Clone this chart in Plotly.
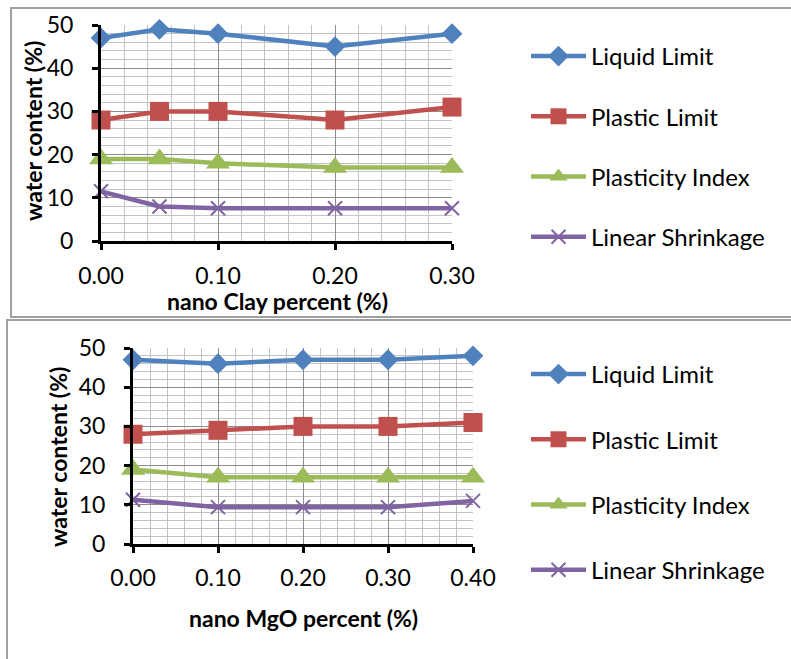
import plotly.graph_objects as go

W, H = 791, 659

# ---------------- data ----------------
series_names = ["Liquid Limit", "Plastic Limit", "Plasticity Index", "Linear Shrinkage"]

clay_pct = [0.00, 0.05, 0.10, 0.20, 0.30]
clay_ll = [47, 49, 48, 45, 48]
clay_pl = [28, 30, 30, 28, 31]
clay_pi = [19, 19, 18, 17, 17]
clay_ls = [11.5, 8.0, 7.6, 7.6, 7.6]

mgo_pct = [0.00, 0.10, 0.20, 0.30, 0.40]
mgo_ll = [47, 46, 47, 47, 48]
mgo_pl = [28, 29, 30, 30, 31]
mgo_pi = [19, 17, 17, 17, 17]
mgo_ls = [11.3, 9.4, 9.4, 9.4, 11.0]

x_title_top = "nano Clay percent (%)"
x_title_bottom = "nano MgO percent (%)"
y_title = "water content (%)"

# ---------------- styles ----------------
colors = ["#4F81BD", "#C0504D", "#9BBB59", "#8064A2"]
symbols = ["diamond", "square", "triangle-up", "x-thin"]
msizes = [16, 19, 21, 14]
FONT = "Lato"
FS = 23
LFS = 24


def px_x(p):
    return p / W


def px_y(p):
    return 1 - p / H


fig = go.Figure()

panels = [
    (clay_pct, [clay_ll, clay_pl, clay_pi, clay_ls], "x", "y", "legend"),
    (mgo_pct, [mgo_ll, mgo_pl, mgo_pi, mgo_ls], "x2", "y2", "legend2"),
]
for pi_, (xs, ys_list, xa, ya, lg) in enumerate(panels):
    for i, (name, ys) in enumerate(zip(series_names, ys_list)):
        mk = dict(symbol=symbols[i], size=msizes[i], color=colors[i])
        if symbols[i] == "x-thin":
            mk["line"] = dict(color=colors[i], width=2)
        else:
            mk["line"] = dict(width=0)
        fig.add_trace(go.Scatter(
            x=xs, y=ys, name=name, mode="lines+markers",
            line=dict(color=colors[i], width=4.5),
            marker=mk, xaxis=xa, yaxis=ya, legend=lg,
            legendgroup=f"{lg}_{i}", cliponaxis=False,
        ))

axis_common = dict(
    showline=True, linecolor="black", linewidth=3,
    ticks="outside", ticklen=6, tickwidth=3, tickcolor="black",
    showgrid=True, gridcolor="#8c8c8c", gridwidth=1.3,
    zeroline=False, mirror=False,
    tickfont=dict(family=FONT, size=FS, color="black"),
    automargin=False,
)
minor_x = dict(dtick=0.02, showgrid=True, gridcolor="#c4c4c4", gridwidth=1.3)
minor_y = dict(dtick=2, showgrid=True, gridcolor="#c4c4c4", gridwidth=1.3)

fig.update_layout(
    width=W, height=H,
    margin=dict(l=0, r=0, t=0, b=0),
    paper_bgcolor="white", plot_bgcolor="white",
    showlegend=True,
    xaxis=dict(**axis_common, domain=[px_x(101), px_x(452)], range=[0, 0.30],
               dtick=0.1, tickformat=".2f", anchor="y", ticklabelstandoff=6,
               minor=minor_x),
    yaxis=dict(**axis_common, domain=[px_y(241), px_y(25)], range=[0, 50],
               dtick=10, anchor="x", ticklabelstandoff=14, minor=minor_y),
    xaxis2=dict(**axis_common, domain=[px_x(133), px_x(473)], range=[0, 0.40],
                dtick=0.1, tickformat=".2f", anchor="y2", ticklabelstandoff=5,
                minor=minor_x),
    yaxis2=dict(**axis_common, domain=[px_y(544), px_y(348)], range=[0, 50],
                dtick=10, anchor="x2", ticklabelstandoff=14, minor=minor_y),
    legend=dict(x=px_x(526), y=px_y(34), xanchor="left", yanchor="top",
                font=dict(family=FONT, size=LFS, color="black"),
                tracegroupgap=26, itemwidth=55, bgcolor="rgba(0,0,0,0)"),
    legend2=dict(x=px_x(526), y=px_y(352), xanchor="left", yanchor="top",
                 font=dict(family=FONT, size=LFS, color="black"),
                 tracegroupgap=31, itemwidth=55, bgcolor="rgba(0,0,0,0)"),
    shapes=[
        dict(type="rect", xref="paper", yref="paper",
             x0=px_x(11), x1=px_x(W + 20), y0=px_y(317), y1=px_y(8),
             line=dict(color="#a0a0a0", width=2), layer="below"),
        dict(type="rect", xref="paper", yref="paper",
             x0=px_x(7), x1=px_x(W + 20), y0=px_y(H + 20), y1=px_y(320),
             line=dict(color="#a0a0a0", width=2), layer="below"),
    ],
    annotations=[
        dict(text=f"<b>{x_title_top}</b>", xref="paper", yref="paper",
             x=px_x(277), y=px_y(301), xanchor="center", yanchor="middle",
             showarrow=False, font=dict(family=FONT, size=FS, color="black")),
        dict(text=f"<b>{y_title}</b>", xref="paper", yref="paper",
             x=px_x(33), y=px_y(131), xanchor="center", yanchor="middle", textangle=-90,
             showarrow=False, font=dict(family=FONT, size=FS, color="black")),
        dict(text=f"<b>{x_title_bottom}</b>", xref="paper", yref="paper",
             x=px_x(303), y=px_y(618), xanchor="center", yanchor="middle",
             showarrow=False, font=dict(family=FONT, size=FS, color="black")),
        dict(text=f"<b>{y_title}</b>", xref="paper", yref="paper",
             x=px_x(58), y=px_y(457), xanchor="center", yanchor="middle", textangle=-90,
             showarrow=False, font=dict(family=FONT, size=FS, color="black")),
    ],
)

fig.write_html("out.html", config={"displayModeBar": False},
               post_script="document.body.style.margin='0';")
